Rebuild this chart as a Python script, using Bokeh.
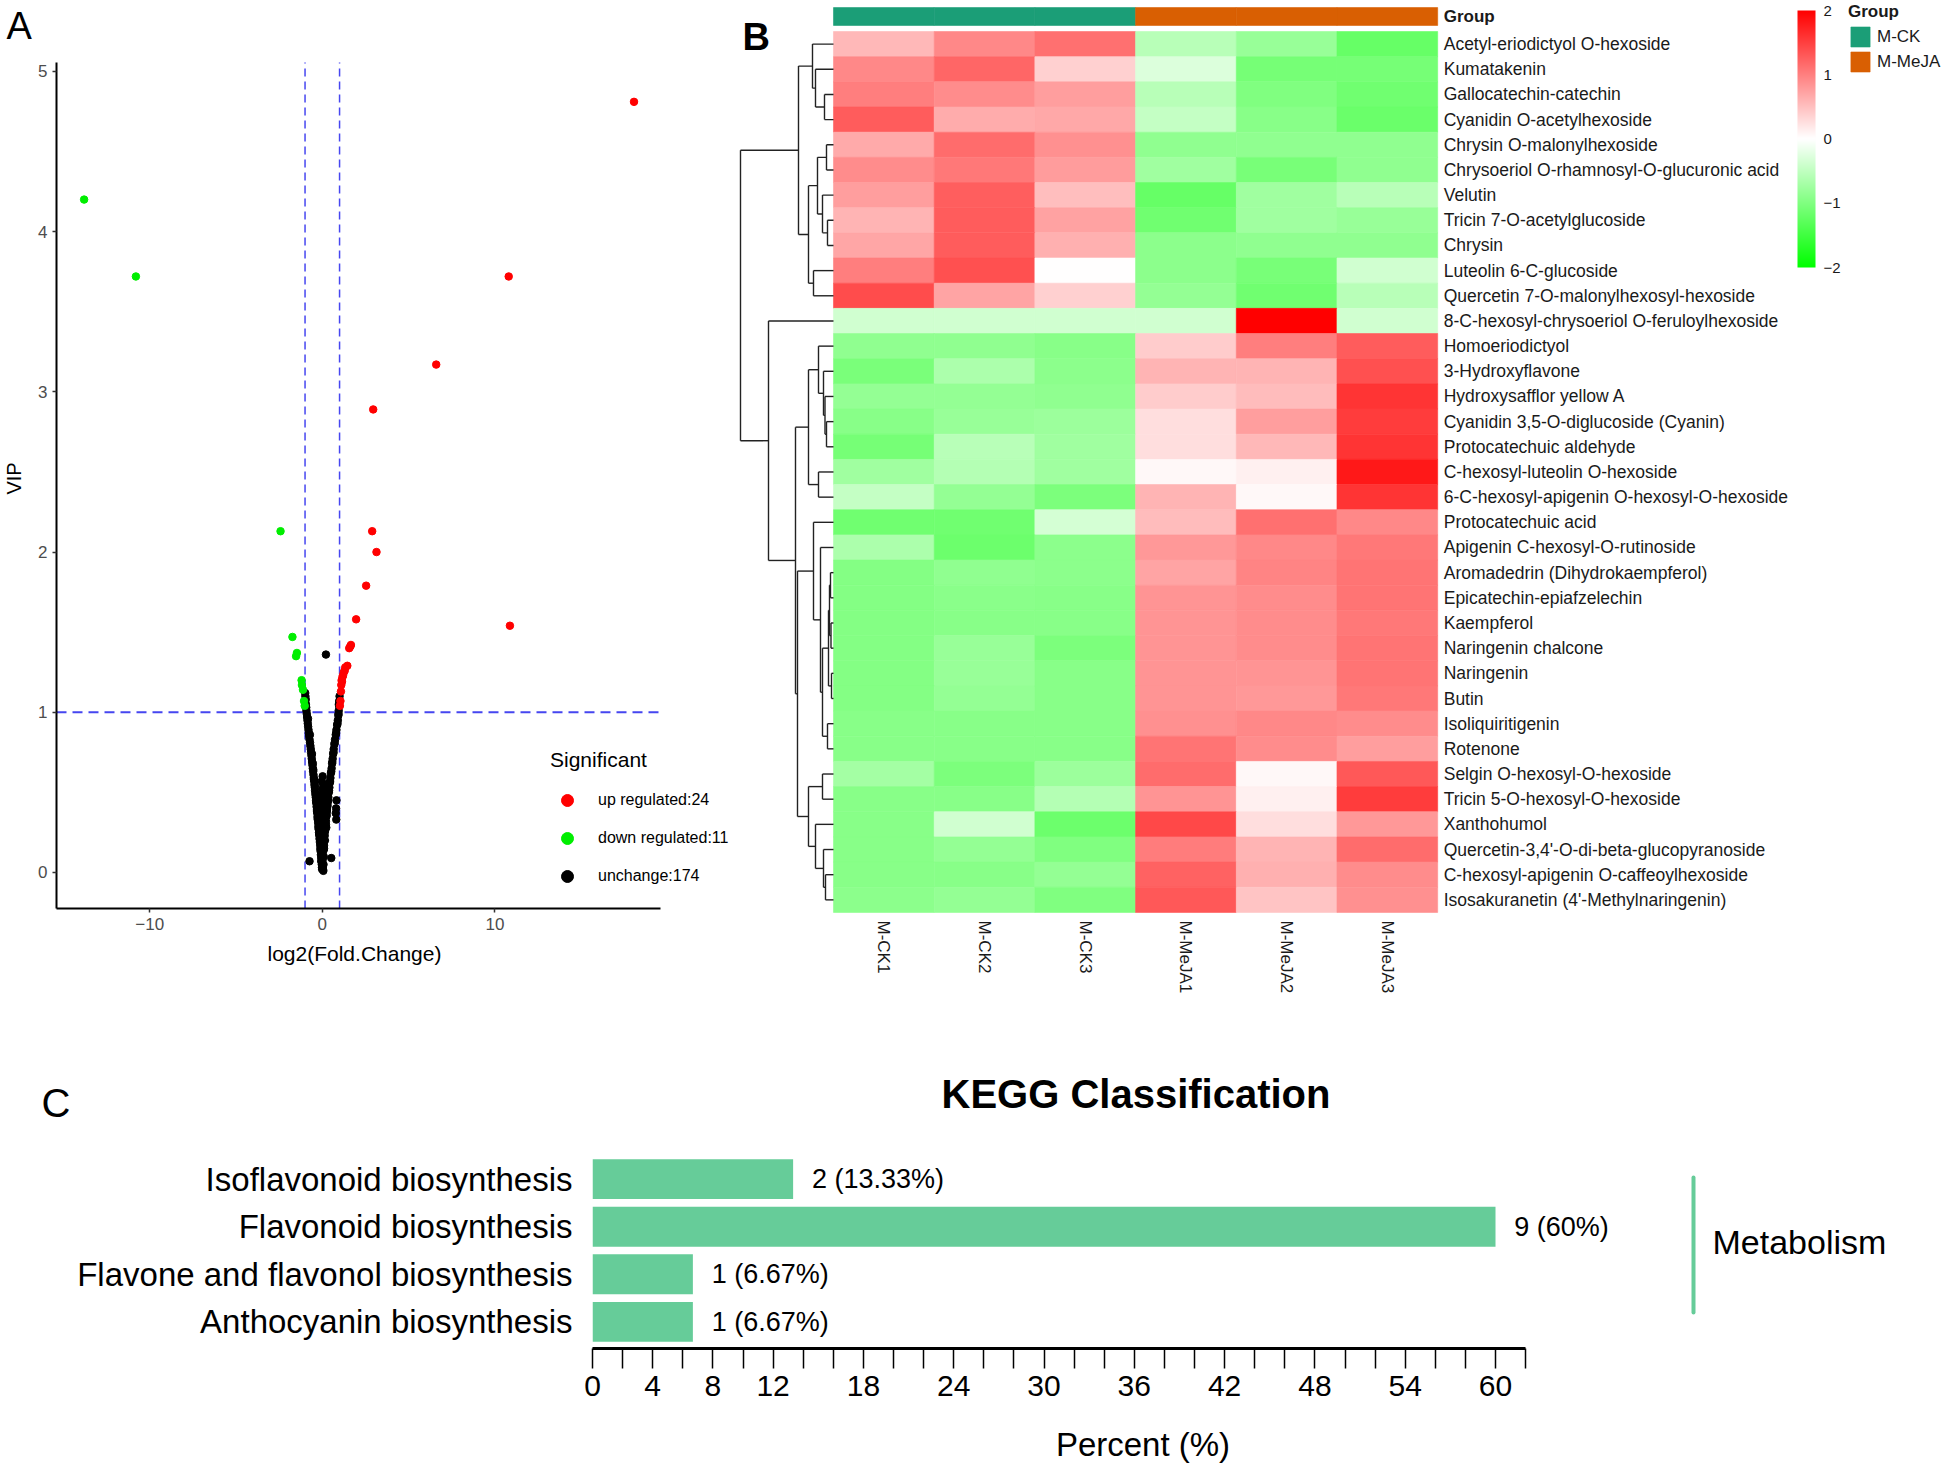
import math
from bokeh.plotting import figure
from bokeh.models import (Range1d, Legend, LegendItem, Label, LinearAxis,
                          ColorBar, LinearColorMapper, FixedTicker, ColumnDataSource, Title)
from bokeh.layouts import column, row
from bokeh.core.properties import value
from bokeh.embed import file_html
from bokeh.resources import INLINE

FONT = "Liberation Sans"
INK = "#1a1a1a"

# ---------------- Panel A: volcano data (log2 FC, VIP) ----------------
up_x = [18.06, 10.8, 6.6, 2.95, 2.89, 3.14, 2.54, 1.96, 10.87, 1.62, 1.66, 1.56,
        1.45, 1.33, 1.30, 1.25, 1.20, 1.17, 1.14, 1.10, 1.08, 1.05, 1.02, 1.12]
up_y = [4.81, 3.72, 3.17, 2.89, 2.13, 2.00, 1.79, 1.58, 1.54, 1.41, 1.42, 1.40,
        1.29, 1.28, 1.26, 1.25, 1.23, 1.22, 1.19, 1.17, 1.13, 1.07, 1.04, 1.20]
down_x = [-13.8, -10.8, -2.42, -1.73, -1.47, -1.52, -1.20, -1.18, -1.12, -1.06, -1.02]
down_y = [4.20, 3.72, 2.13, 1.47, 1.37, 1.35, 1.20, 1.17, 1.14, 1.07, 1.04]
unch_x = [-0.99, -0.98, -0.96, -0.95, -0.93, -0.92, -0.90, -0.88, -0.86, -0.84,
          -0.82, -0.80, -0.78, -0.76, -0.74, -0.71, -0.69, -0.67, -0.65, -0.63,
          -0.61, -0.59, -0.57, -0.55, -0.53, -0.51, -0.49, -0.47, -0.45, -0.43,
          -0.42, -0.40, -0.38, -0.36, -0.34, -0.33, -0.31, -0.29, -0.27, -0.26,
          -0.24, -0.22, -0.21, -0.19, -0.17, -0.16, -0.14, -0.12, -0.11, -0.09,
          -0.08, -0.06, -0.05, -0.03, -0.02, -0.01, -0.83, -0.72, -0.60, -0.52,
          -0.44, -0.35, -0.27, -0.18, -0.10, -0.55, -0.48, -0.37, -0.30, -0.22,
          1.00, 0.98, 0.97, 0.95, 0.93, 0.90, 0.86, 0.82, 0.78, 0.74,
          0.70, 0.66, 0.63, 0.60, 0.57, 0.54, 0.50, 0.47, 0.44, 0.41,
          0.38, 0.35, 0.32, 0.29, 0.26, 0.24, 0.21, 0.19, 0.16, 0.14,
          0.12, 0.10, 0.08, 0.96, 0.94, 0.88, 0.80, 0.72, 0.65, 0.58,
          0.52, 0.45, 0.39, 0.33, 0.30, 0.27, 0.82, 0.80, 0.78, 0.81,
          0.02, -0.03, 0.05, 0.00, 0.08, -0.05, 0.12, 0.03, 0.15, -0.06,
          0.10, 0.01, 0.18, -0.02, 0.06, 0.14, -0.04, 0.09, 0.02, 0.11,
          -0.01, 0.07, 0.04, 0.00, 0.05, 0.02, -0.02, 0.03, 0.04, 0.06,
          0.20, 0.17, 0.22, 0.16, 0.21, 0.13, 0.15, 0.10, 0.08, 0.07,
          -0.10, -0.12, -0.09, -0.08, -0.06, -0.07, -0.03, -0.05, 0.01, 0.25, 0.23,
          0.21, -0.74, 0.52]
unch_y = [1.12, 1.10, 1.08, 1.05, 1.03, 1.01, 0.99, 0.97, 0.95, 0.93,
          0.91, 0.89, 0.87, 0.85, 0.83, 0.81, 0.79, 0.77, 0.75, 0.73,
          0.71, 0.69, 0.67, 0.65, 0.63, 0.61, 0.59, 0.57, 0.55, 0.53,
          0.51, 0.49, 0.47, 0.45, 0.43, 0.41, 0.39, 0.37, 0.35, 0.33,
          0.31, 0.29, 0.27, 0.25, 0.23, 0.21, 0.19, 0.17, 0.15, 0.13,
          0.11, 0.09, 0.07, 0.05, 0.03, 0.02, 0.96, 0.86, 0.74, 0.64,
          0.54, 0.44, 0.34, 0.24, 0.14, 0.68, 0.58, 0.48, 0.38, 0.28,
          1.10, 1.07, 1.04, 1.01, 0.98, 0.95, 0.92, 0.89, 0.86, 0.83,
          0.80, 0.77, 0.74, 0.71, 0.68, 0.65, 0.62, 0.59, 0.56, 0.53,
          0.50, 0.47, 0.44, 0.41, 0.38, 0.35, 0.32, 0.29, 0.26, 0.23,
          0.20, 0.17, 0.14, 1.05, 0.99, 0.93, 0.87, 0.81, 0.75, 0.69,
          0.63, 0.57, 0.51, 0.45, 0.42, 0.39, 0.45, 0.40, 0.37, 0.33,
          0.60, 0.57, 0.55, 0.52, 0.50, 0.48, 0.46, 0.44, 0.42, 0.40,
          0.38, 0.36, 0.34, 0.32, 0.30, 0.28, 0.26, 0.24, 0.22, 0.20,
          0.18, 0.16, 0.14, 0.12, 0.10, 0.08, 0.06, 0.04, 0.02, 0.01,
          0.50, 0.45, 0.40, 0.35, 0.30, 0.25, 0.20, 0.15, 0.10, 0.05,
          0.43, 0.37, 0.31, 0.27, 0.21, 0.17, 0.11, 0.07, 0.03, 0.36, 0.28,
          1.36, 0.07, 0.09]
fc_cut = 1
vip_cut = 1
legend_labels = ["up regulated:24", "down regulated:11", "unchange:174"]

# ---------------- Panel B: heatmap data ----------------
metabolites = [
    "Acetyl-eriodictyol O-hexoside", "Kumatakenin", "Gallocatechin-catechin",
    "Cyanidin O-acetylhexoside", "Chrysin O-malonylhexoside",
    "Chrysoeriol O-rhamnosyl-O-glucuronic acid", "Velutin",
    "Tricin 7-O-acetylglucoside", "Chrysin", "Luteolin 6-C-glucoside",
    "Quercetin 7-O-malonylhexosyl-hexoside",
    "8-C-hexosyl-chrysoeriol O-feruloylhexoside", "Homoeriodictyol",
    "3-Hydroxyflavone", "Hydroxysafflor yellow A",
    "Cyanidin 3,5-O-diglucoside (Cyanin)", "Protocatechuic aldehyde",
    "C-hexosyl-luteolin O-hexoside", "6-C-hexosyl-apigenin O-hexosyl-O-hexoside",
    "Protocatechuic acid", "Apigenin C-hexosyl-O-rutinoside",
    "Aromadedrin (Dihydrokaempferol)", "Epicatechin-epiafzelechin", "Kaempferol",
    "Naringenin chalcone", "Naringenin", "Butin", "Isoliquiritigenin", "Rotenone",
    "Selgin O-hexosyl-O-hexoside", "Tricin 5-O-hexosyl-O-hexoside", "Xanthohumol",
    "Quercetin-3,4'-O-di-beta-glucopyranoside", "C-hexosyl-apigenin O-caffeoylhexoside",
    "Isosakuranetin (4'-Methylnaringenin)"]
samples = ["M-CK1", "M-CK2", "M-CK3", "M-MeJA1", "M-MeJA2", "M-MeJA3"]
sample_group = ["M-CK", "M-CK", "M-CK", "M-MeJA", "M-MeJA", "M-MeJA"]
group_names = ["M-CK", "M-MeJA"]
group_colors = ["#1B9E77", "#D95F02"]
zscores = [
    [0.56, 0.93, 1.12, -0.55, -0.80, -1.20],
    [0.93, 1.20, 0.37, -0.27, -1.07, -1.07],
    [1.00, 0.90, 0.75, -0.55, -1.00, -1.12],
    [1.28, 0.65, 0.68, -0.46, -0.93, -1.17],
    [0.67, 1.15, 0.87, -0.87, -0.87, -0.87],
    [0.90, 1.06, 0.78, -0.75, -1.06, -0.87],
    [0.75, 1.26, 0.50, -1.20, -0.75, -0.56],
    [0.59, 1.28, 0.73, -1.12, -0.75, -0.81],
    [0.70, 1.28, 0.62, -0.90, -0.87, -0.87],
    [1.00, 1.37, 0.00, -0.90, -1.06, -0.37],
    [1.40, 0.71, 0.37, -0.84, -1.12, -0.56],
    [-0.37, -0.37, -0.37, -0.37, 2.00, -0.37],
    [-0.87, -0.87, -0.93, 0.40, 1.00, 1.28],
    [-1.04, -0.65, -0.90, 0.59, 0.59, 1.37],
    [-0.84, -0.84, -0.87, 0.40, 0.52, 1.58],
    [-0.93, -0.81, -0.78, 0.25, 0.75, 1.53],
    [-1.07, -0.56, -0.75, 0.25, 0.56, 1.59],
    [-0.75, -0.59, -0.75, 0.05, 0.12, 1.81],
    [-0.46, -0.84, -1.03, 0.59, 0.05, 1.59],
    [-1.12, -1.12, -0.34, 0.52, 1.12, 0.93],
    [-0.65, -1.15, -0.90, 0.81, 0.93, 1.06],
    [-0.96, -0.87, -0.90, 0.71, 0.96, 1.09],
    [-0.96, -0.92, -0.93, 0.84, 0.90, 1.09],
    [-0.96, -0.93, -0.93, 0.84, 0.90, 1.06],
    [-0.96, -0.81, -1.03, 0.84, 0.90, 1.09],
    [-0.96, -0.81, -0.93, 0.84, 0.84, 1.09],
    [-0.96, -0.84, -0.93, 0.84, 0.81, 1.06],
    [-0.93, -0.93, -0.93, 0.87, 0.93, 0.90],
    [-0.93, -0.93, -0.93, 1.09, 0.90, 0.75],
    [-0.71, -1.03, -0.78, 1.15, 0.05, 1.31],
    [-0.93, -0.93, -0.59, 0.84, 0.12, 1.53],
    [-0.93, -0.37, -1.15, 1.43, 0.25, 0.81],
    [-0.93, -0.84, -1.00, 1.03, 0.59, 1.15],
    [-0.93, -0.93, -0.84, 1.22, 0.62, 0.90],
    [-0.90, -0.84, -1.00, 1.31, 0.46, 0.87],
]
# row dendrogram: (merge height, left, right); leaves are row indices
row_tree = (93,
            (35, (21, 0, (18, 1, (9, 2, 3))),
                 (25, (16, (7, 4, 5), (11, 6, (6, 7, 8))), (20, 9, 10))),
            (65, 11,
             (38, (25, (15, 12, (10, 13, (8.5, 14, (7, 15, 16)))), (15, 17, 18)),
                  (36, (20, 19, (13, 20, (11, (5, (4, (3, 21, 22), (2.5, 23, 24)), (2, 25, 26)), (6, 27, 28)))),
                       (25, (11, 29, 30), (18, 31, (10, 32, (8, 33, 34))))))))
z_low, z_high = -2, 2
cbar_ticks = [-2, -1, 0, 1, 2]

# ---------------- Panel C: KEGG data ----------------
pathways = ["Isoflavonoid biosynthesis", "Flavonoid biosynthesis",
            "Flavone and flavonol biosynthesis", "Anthocyanin biosynthesis"]
pathway_counts = [2, 9, 1, 1]
pathway_percent = [13.33, 60, 6.67, 6.67]
pathway_class = "Metabolism"
pct_ticks = list(range(0, 63, 2))
pct_labels = [0, 4, 8, 12, 18, 24, 30, 36, 42, 48, 54, 60]

TOP_H = 1027          # height of the upper row (panels A and B)
C_H = 1467 - TOP_H    # height of the lower row (panel C)

# ======================= Panel A =======================
pA = figure(width=737, height=TOP_H, x_range=Range1d(-15.4, 24.056), y_range=Range1d(-0.225, 5.143),
            output_backend="svg", toolbar_location=None,
            min_border_left=56, min_border_right=0, min_border_top=48, min_border_bottom=TOP_H - 908)
pA.frame_align = False
pA.grid.visible = False
pA.outline_line_color = None
for ax in (pA.xaxis[0], pA.yaxis[0]):
    ax.axis_line_width = 2
    ax.axis_line_color = "black"
    ax.major_tick_line_color = "#333333"
    ax.major_tick_line_width = 1.5
    ax.major_tick_out = 4
    ax.major_tick_in = 0
    ax.minor_tick_line_color = None
    ax.major_label_text_font = FONT
    ax.major_label_text_font_size = "17px"
    ax.major_label_text_color = "#4D4D4D"
    ax.major_label_standoff = 5
pA.xaxis[0].ticker = FixedTicker(ticks=[-10, 0, 10])
pA.xaxis[0].bounds = (-15.4, 19.6)
pA.yaxis[0].ticker = FixedTicker(ticks=[0, 1, 2, 3, 4, 5])
pA.yaxis[0].bounds = (-0.225, 5.056)
pA.yaxis[0].axis_label = "VIP"
pA.yaxis[0].axis_label_text_font = FONT
pA.yaxis[0].axis_label_text_font_size = "20px"
pA.yaxis[0].axis_label_text_font_style = "normal"
pA.yaxis[0].axis_label_text_color = "black"
pA.yaxis[0].axis_label_standoff = 10

pA.title.text = "A"
pA.title.align = "left"
pA.title.offset = -50
pA.title.vertical_align = "top"
pA.title.standoff = 0
pA.title.text_font = FONT
pA.title.text_font_size = "38px"
pA.title.text_font_style = "normal"
pA.title.text_color = "black"

pA.add_layout(Title(text="log2(Fold.Change)", align="left", offset=211, vertical_align="bottom",
                    standoff=14, text_font=FONT, text_font_size="21px", text_font_style="normal",
                    text_color="black"), "below")

dash_col = "#4646F0"
pA.segment(x0=[-fc_cut, fc_cut], y0=[-0.225, -0.225], x1=[-fc_cut, fc_cut], y1=[5.056, 5.056],
           line_color=dash_col, line_dash="8 5", line_width=1.5)
pA.segment(x0=[-15.4], y0=[vip_cut], x1=[19.6], y1=[vip_cut],
           line_color=dash_col, line_dash="10 6", line_width=2)

r_un = pA.scatter(unch_x, unch_y, size=7.5, color="black")
r_dn = pA.scatter(down_x, down_y, size=7.5, color="#00EE00")
r_up = pA.scatter(up_x, up_y, size=7.5, color="#FF0000")

legA = Legend(items=[LegendItem(label=legend_labels[0], renderers=[r_up]),
                     LegendItem(label=legend_labels[1], renderers=[r_dn]),
                     LegendItem(label=legend_labels[2], renderers=[r_un])],
              location=(484, 7), title="Significant",
              title_text_font=FONT, title_text_font_size="21px", title_text_font_style="normal",
              title_text_color="black", title_standoff=13,
              label_text_font=FONT, label_text_font_size="16px", label_text_color="black",
              glyph_width=34, glyph_height=30, label_height=30, label_standoff=14,
              spacing=8, padding=10, margin=0,
              border_line_alpha=0, background_fill_alpha=0)
pA.add_layout(legA)

# ======================= Panel B =======================
pB = figure(width=1946 - 737, height=TOP_H, x_range=Range1d(-0.9533, 11.053),
            y_range=Range1d((TOP_H - 31) / 25.17, -31 / 25.17),
            x_axis_type=None, y_axis_type=None, output_backend="svg", toolbar_location=None,
            min_border=0)
pB.frame_align = False
pB.grid.visible = False
pB.outline_line_color = None

palette = []
for k in range(256):
    t = k / 255
    if t < 0.5:
        f = t / 0.5
        palette.append("#%02x%02x%02x" % (round(255 * f), 255, round(255 * f)))
    else:
        f = (1 - t) / 0.5
        palette.append("#%02x%02x%02x" % (255, round(255 * f), round(255 * f)))
mapper = LinearColorMapper(palette=palette, low=z_low, high=z_high)

cells = dict(left=[], right=[], top=[], bottom=[], z=[])
for i, rv in enumerate(zscores):
    for j, v in enumerate(rv):
        cells["left"].append(j)
        cells["right"].append(j + 1)
        cells["top"].append(i)
        cells["bottom"].append(i + 1)
        cells["z"].append(v)
pB.quad(left="left", right="right", top="top", bottom="bottom", source=ColumnDataSource(cells),
        fill_color={"field": "z", "transform": mapper},
        line_color={"field": "z", "transform": mapper}, line_width=0.6)

grp_renderers = []
for g, col in zip(group_names, group_colors):
    cols = [j for j, sg in enumerate(sample_group) if sg == g]
    r = pB.quad(left=cols, right=[c + 1 for c in cols], top=-0.95, bottom=-0.24,
                fill_color=col, line_color=col, line_width=0.6)
    grp_renderers.append(r)

n_rows = len(metabolites)
label_x = len(samples) + 0.06
pB.text(x=[label_x] * n_rows, y=[i + 0.5 for i in range(n_rows)], text=metabolites,
        text_font=value(FONT), text_font_size="17.5px", text_color=INK,
        text_align="left", text_baseline="middle")
pB.text(x=[label_x], y=[-0.6], text=["Group"], text_font=value(FONT), text_font_size="17px",
        text_font_style="bold", text_color=INK, text_align="left", text_baseline="middle")
pB.text(x=[j + 0.5 for j in range(len(samples))], y=[n_rows + 0.32] * len(samples), text=samples,
        angle=-math.pi / 2, text_font=value(FONT), text_font_size="17px", text_color=INK,
        text_align="left", text_baseline="middle")

# dendrogram
dend_k = 1 / 100.7
seg = dict(x0=[], y0=[], x1=[], y1=[])


def walk(node):
    if isinstance(node, int):
        return 0.0, node + 0.5
    h, a, b = node
    ha, ya = walk(a)
    hb, yb = walk(b)
    xh = -h * dend_k
    for hc, yc in ((ha, ya), (hb, yb)):
        seg["x0"].append(-hc * dend_k); seg["y0"].append(yc)
        seg["x1"].append(xh); seg["y1"].append(yc)
    seg["x0"].append(xh); seg["y0"].append(ya)
    seg["x1"].append(xh); seg["y1"].append(yb)
    return h, (ya + yb) / 2


walk(row_tree)
pB.segment(x0="x0", y0="y0", x1="x1", y1="y1", source=ColumnDataSource(seg),
           line_color="#222222", line_width=1.4)

cb = ColorBar(color_mapper=mapper, ticker=FixedTicker(ticks=cbar_ticks), orientation="vertical",
              width=18, height=257, location=(1060, TOP_H - 267), padding=0, label_standoff=8,
              major_label_text_font=FONT, major_label_text_font_size="15px",
              major_label_text_color=INK, major_tick_line_color=None, bar_line_color=None,
              border_line_color=None, background_fill_alpha=0)
pB.add_layout(cb)

legB = Legend(items=[LegendItem(label=g, renderers=[r]) for g, r in zip(group_names, grp_renderers)],
              location=(1111, TOP_H - 74), title="Group",
              title_text_font=FONT, title_text_font_size="17px", title_text_font_style="bold",
              title_text_color=INK, title_standoff=2,
              label_text_font=FONT, label_text_font_size="17px", label_text_color=INK,
              glyph_width=24, glyph_height=25, label_height=25, label_standoff=5,
              spacing=0, padding=0, margin=0, border_line_alpha=0, background_fill_alpha=0)
pB.add_layout(legB)

pB.add_layout(Label(x=-0.904, y=0.238, text="B", text_font=FONT, text_font_size="38px",
                    text_font_style="bold", text_baseline="alphabetic", text_align="left",
                    text_color="black"))

# ======================= Panel C =======================
bar_color = "#66CC99"
CL_W = 72
pCl = figure(width=CL_W, height=C_H, x_range=Range1d(0, CL_W), y_range=Range1d(C_H, 0),
             x_axis_type=None, y_axis_type=None, output_backend="svg", toolbar_location=None,
             min_border=0)
pCl.frame_align = False
pCl.grid.visible = False
pCl.outline_line_color = None
pCl.text(x=[41], y=[1102 - TOP_H], text=["C"], text_font=value(FONT), text_font_size="40px",
         text_color="black", text_align="left", text_baseline="alphabetic")

n_path = len(pathways)
path_pos = [n_path - i - 0.5 for i in range(n_path)]   # first pathway on top
FRAME_R = 1693
pC = figure(width=1946 - CL_W, height=C_H, x_range=Range1d(0, (FRAME_R - 592) / 15.05),
            y_range=Range1d(-0.06, n_path + 0.06),
            output_backend="svg", toolbar_location=None,
            min_border_left=592 - CL_W, min_border_right=1946 - FRAME_R,
            min_border_top=1152 - TOP_H, min_border_bottom=1467 - 1348)
pC.frame_align = False
pC.grid.visible = False
pC.outline_line_color = None
pC.title.text = "KEGG Classification"
pC.title.align = "left"
pC.title.offset = 349
pC.title.vertical_align = "bottom"
pC.title.standoff = 74
pC.title.text_font = FONT
pC.title.text_font_size = "40px"
pC.title.text_font_style = "bold"
pC.title.text_color = "black"

xa = pC.xaxis[0]
xa.ticker = FixedTicker(ticks=pct_ticks)
xa.major_label_overrides = {t: "" for t in pct_ticks if t not in pct_labels}
xa.bounds = (0, 62)
xa.axis_line_width = 3
xa.axis_line_color = "black"
xa.major_tick_out = 20
xa.major_tick_in = 0
xa.major_tick_line_width = 1.5
xa.major_tick_line_color = "black"
xa.minor_tick_line_color = None
xa.major_label_text_font = FONT
xa.major_label_text_font_size = "30px"
xa.major_label_text_color = "black"
xa.major_label_standoff = 7
xa.axis_label = "Percent (%)"
xa.axis_label_text_font = FONT
xa.axis_label_text_font_size = "33px"
xa.axis_label_text_font_style = "normal"
xa.axis_label_text_color = "black"
xa.axis_label_standoff = 27

ya = pC.yaxis[0]
ya.ticker = FixedTicker(ticks=path_pos)
ya.major_label_overrides = {pos: name for pos, name in zip(path_pos, pathways)}
ya.axis_line_color = None
ya.major_tick_line_color = None
ya.minor_tick_line_color = None
ya.major_tick_out = 0
ya.major_tick_in = 0
ya.major_label_text_font = FONT
ya.major_label_text_font_size = "33px"
ya.major_label_text_color = "black"
ya.major_label_standoff = 20

# class strip on the right, drawn as an axis whose line spans the class's rows
cls_axis = LinearAxis(ticker=FixedTicker(ticks=[2.17]),
                      major_label_overrides={2.17: pathway_class}, bounds=(0.7, 3.54),
                      axis_line_color=bar_color, axis_line_width=4, axis_line_cap="round",
                      major_tick_line_color=None, major_tick_out=0, major_tick_in=0,
                      minor_tick_line_color=None, major_label_standoff=19,
                      major_label_text_font=FONT, major_label_text_font_size="34px",
                      major_label_text_color="black")
pC.add_layout(cls_axis, "right")

pC.hbar(y=path_pos, left=0, right=pathway_percent, height=0.84, fill_color=bar_color, line_color=None)
val_text = ["%d (%s%%)" % (c, ("%g" % p)) for c, p in zip(pathway_counts, pathway_percent)]
pC.text(x=[p + 1.25 for p in pathway_percent], y=path_pos, text=val_text,
        text_font=value(FONT), text_font_size="27px", text_color="black",
        text_align="left", text_baseline="middle")

layout = column(row(pA, pB), row(pCl, pC))
open("out.html", "w").write(file_html(layout, INLINE))
